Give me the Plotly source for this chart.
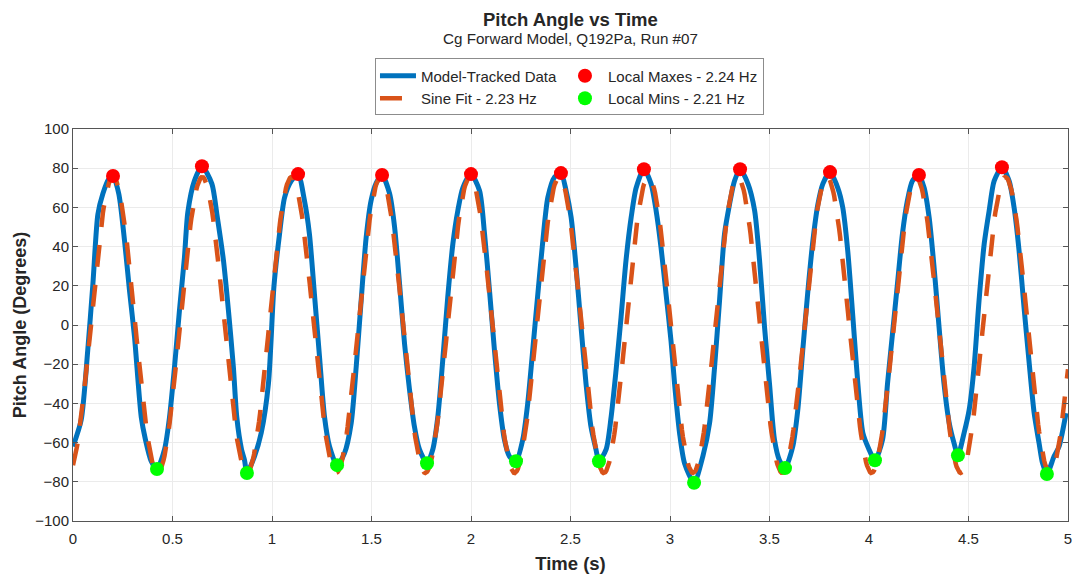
import numpy as np
import plotly.graph_objects as go

# ---- Model-tracked pitch angle samples ----
time_s = [
    0.000, 0.041, 0.074, 0.100, 0.125, 0.150, 0.180, 0.201, 0.230, 0.259,
    0.284, 0.309, 0.343, 0.364, 0.393, 0.422, 0.460, 0.485, 0.510, 0.535,
    0.560, 0.577, 0.610, 0.648, 0.698, 0.723, 0.756, 0.781, 0.806, 0.823,
    0.847, 0.862, 0.874, 0.912, 0.946, 0.982, 1.010, 1.038, 1.063, 1.097,
    1.131, 1.163, 1.188, 1.213, 1.239, 1.264, 1.289, 1.327, 1.364, 1.398,
    1.423, 1.448, 1.473, 1.498, 1.524, 1.553, 1.591, 1.616, 1.641, 1.666,
    1.691, 1.716, 1.741, 1.779, 1.808, 1.833, 1.858, 1.883, 1.909, 1.934,
    1.959, 2.000, 2.043, 2.068, 2.093, 2.118, 2.143, 2.168, 2.193, 2.226,
    2.260, 2.285, 2.310, 2.336, 2.361, 2.386, 2.420, 2.452, 2.478, 2.503,
    2.528, 2.553, 2.578, 2.603, 2.628, 2.643, 2.679, 2.704, 2.729, 2.754,
    2.779, 2.805, 2.830, 2.869, 2.905, 2.930, 2.955, 2.980, 3.005, 3.023,
    3.048, 3.073, 3.121, 3.165, 3.199, 3.224, 3.249, 3.274, 3.299, 3.324,
    3.352, 3.392, 3.425, 3.450, 3.475, 3.500, 3.525, 3.550, 3.578, 3.617,
    3.642, 3.667, 3.693, 3.718, 3.743, 3.768, 3.804, 3.843, 3.868, 3.893,
    3.919, 3.944, 3.969, 3.998, 4.030, 4.068, 4.093, 4.118, 4.143, 4.168,
    4.193, 4.218, 4.251, 4.277, 4.302, 4.327, 4.352, 4.377, 4.403, 4.428,
    4.447, 4.478, 4.503, 4.528, 4.553, 4.579, 4.604, 4.629, 4.668, 4.704,
    4.729, 4.754, 4.779, 4.805, 4.830, 4.855, 4.872, 4.894, 4.930, 4.955,
    4.990,
]
pitch_deg = [
    -62.0, -48.5, -13.0, 21.0, 56.5, 67.0, 74.5, 76.0, 67.0, 43.0,
    17.5, -6.0, -47.0, -58.5, -69.5, -73.5, -63.5, -47.0, -21.5, 7.5,
    34.5, 57.5, 73.5, 81.0, 72.0, 56.5, 33.0, 7.5, -21.5, -47.0,
    -63.5, -69.0, -75.5, -67.0, -55.0, -30.0, 20.0, 46.5, 65.0, 73.5,
    77.0, 63.5, 46.5, 16.0, -16.5, -47.0, -62.0, -71.5, -65.5, -50.0,
    -21.5, 12.5, 44.5, 63.5, 72.5, 76.5, 67.0, 50.0, 21.0, -9.5,
    -33.0, -52.0, -63.5, -70.5, -63.5, -47.0, -18.0, 14.0, 41.5, 58.5,
    70.0, 77.0, 68.5, 46.5, 17.5, -13.0, -40.0, -58.5, -67.0, -69.5,
    -58.5, -40.0, -13.0, 16.0, 43.0, 65.0, 75.5, 77.5, 68.5, 55.0,
    29.5, -1.0, -30.0, -52.0, -63.5, -69.5, -63.5, -47.0, -23.0, 4.0,
    33.0, 55.0, 70.0, 79.5, 72.0, 58.5, 39.5, 16.0, -8.0, -30.0,
    -55.0, -70.5, -80.5, -67.0, -50.0, -21.5, 12.5, 46.5, 61.5, 73.5,
    79.5, 72.0, 58.5, 33.0, -1.0, -30.0, -58.5, -69.0, -73.0, -62.0,
    -43.5, -13.0, 17.5, 43.0, 61.5, 72.0, 78.0, 70.0, 60.0, 38.0,
    4.0, -30.0, -55.0, -63.0, -69.0, -58.5, -30.0, -4.5, 21.0, 46.5,
    63.5, 73.5, 76.5, 70.0, 55.0, 29.5, -1.0, -30.0, -50.0, -60.5,
    -66.5, -55.0, -43.5, -21.5, 12.5, 41.5, 58.5, 73.5, 80.5, 73.5,
    60.0, 38.0, 9.0, -19.5, -45.0, -60.5, -70.5, -76.0, -67.0, -62.0,
    -45.0,
]

# ---- Detected local extrema ----
max_time_s = [0.201, 0.648, 1.131, 1.553, 2.000, 2.452, 2.869, 3.352, 3.804, 4.251, 4.668]
max_pitch_deg = [76.0, 81.0, 77.0, 76.5, 77.0, 77.5, 79.5, 79.5, 78.0, 76.5, 80.5]
min_time_s = [0.422, 0.874, 1.327, 1.779, 2.226, 2.643, 3.121, 3.578, 4.030, 4.447, 4.894]
min_pitch_deg = [-73.5, -75.5, -71.5, -70.5, -69.5, -69.5, -80.5, -73.0, -69.0, -66.5, -76.0]

# ---- Sine fit parameters: A*sin(2*pi*f*t + phi) + offset ----
FIT_AMPLITUDE = 75.5
FIT_FREQ_HZ = 2.23
FIT_PHASE_RAD = -1.2455
FIT_OFFSET = 0.0

fit_t = np.linspace(0.0, 5.0, 1001)
fit_y = FIT_AMPLITUDE * np.sin(2 * np.pi * FIT_FREQ_HZ * fit_t + FIT_PHASE_RAD) + FIT_OFFSET

FONT = "Liberation Sans, Arial, Helvetica, sans-serif"
TEXT = "#262626"
AXIS = "#555555"

fig = go.Figure()
fig.add_trace(go.Scatter(
    x=time_s, y=pitch_deg, mode="lines", name="Model-Tracked Data",
    legendgroup="curves",
    line=dict(color="#0072BD", width=5, shape="spline", smoothing=0.7),
))
fig.add_trace(go.Scatter(
    x=fit_t, y=fit_y, mode="lines", name=f"Sine Fit - {FIT_FREQ_HZ:.2f} Hz",
    legendgroup="curves", line=dict(color="#D95319", width=4.5, dash="22px,18px"),
))
fig.add_trace(go.Scatter(
    x=max_time_s, y=max_pitch_deg, mode="markers", name="Local Maxes - 2.24 Hz",
    legendgroup="extrema", marker=dict(color="#FF0000", size=14),
))
fig.add_trace(go.Scatter(
    x=min_time_s, y=min_pitch_deg, mode="markers", name="Local Mins - 2.21 Hz",
    legendgroup="extrema", marker=dict(color="#00FF00", size=14),
))

axis_common = dict(
    showgrid=True, gridcolor="#EBEBEB", gridwidth=1, zeroline=False,
    showline=True, linecolor=AXIS, linewidth=1, mirror="ticks",
    ticks="inside", ticklen=5, tickcolor=AXIS, automargin=False,
    tickfont=dict(family=FONT, size=15, color=TEXT),
)

fig.update_layout(
    width=1077, height=575,
    margin=dict(l=73, r=9, t=129, b=54),
    paper_bgcolor="white", plot_bgcolor="white",
    showlegend=True,
    legend=dict(
        orientation="h", traceorder="grouped", tracegroupgap=0,
        itemwidth=36,
        x=0.3035, xanchor="left", y=1.18, yanchor="top",
        bordercolor="#8C8C8C", borderwidth=1, bgcolor="white",
        font=dict(family=FONT, size=15, color=TEXT),
    ),
    xaxis=dict(
        range=[0, 5], tick0=0, dtick=0.5, ticklabelstandoff=4,
        title=dict(text="<b>Time (s)</b>", font=dict(family=FONT, size=18.5, color=TEXT), standoff=11),
        **axis_common,
    ),
    yaxis=dict(
        range=[-100, 100], tick0=-100, dtick=20,
        title=dict(text="<b>Pitch Angle (Degrees)</b>", font=dict(family=FONT, size=18, color=TEXT), standoff=3),
        **axis_common,
    ),
    annotations=[
        dict(text="<b>Pitch Angle vs Time</b>", xref="paper", yref="paper",
             x=0.5, y=1.2806, xanchor="center", yanchor="middle", showarrow=False,
             font=dict(family=FONT, size=18.5, color=TEXT)),
        dict(text="Cg Forward Model, Q192Pa, Run #07", xref="paper", yref="paper",
             x=0.5, y=1.23, xanchor="center", yanchor="middle", showarrow=False,
             font=dict(family=FONT, size=15.2, color=TEXT)),
    ],
)

fig.write_html("out.html")
